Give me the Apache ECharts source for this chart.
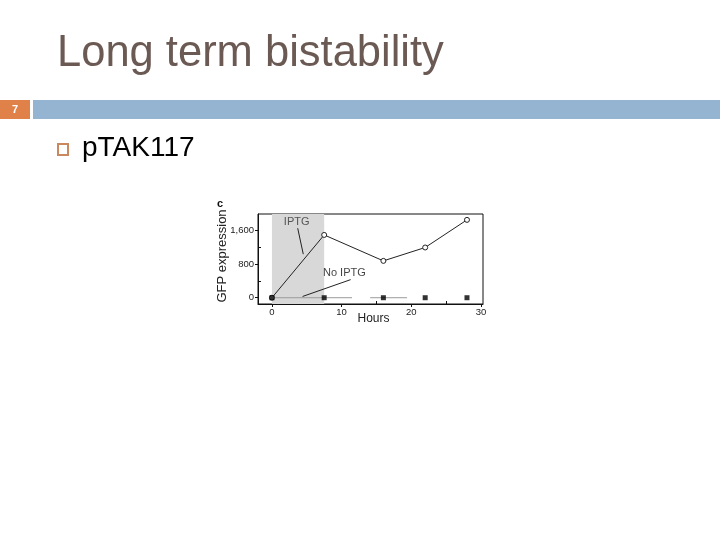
<!DOCTYPE html>
<html>
<head>
<meta charset="utf-8">
<script src="https://cdn.jsdelivr.net/npm/echarts@6/dist/echarts.min.js"></script>
<style>html,body{margin:0;padding:0;background:#fff;}#c{width:720px;height:540px;}</style>
</head>
<body>
<div id="c"></div>
<script>
// ---- data ----
var hours = [0, 7.5, 16, 22, 28];
var iptgValues = [0, 1500, 880, 1200, 1860];
var noIptgValues = [0, 0, 0, 0, 0];
var noIptgBarA = [[0, 0], [11.5, 0]];
var noIptgBarB = [[14.1, 0], [19.4, 0]];
var shadeRange = [0, 7.5];
var xTickLabels = [0, 10, 20, 30];
var xMinorTicks = [5, 15, 25];
var yTickLabels = [0, 800, 1600];
var yMinorTicks = [400, 1200];
var iptgPointer = [[3.7, 1660], [4.5, 1040]];
var noIptgPointer = [[11.3, 432], [4.4, 30]];
var iptgLabelPos = [3.55, 1820];
var noIptgLabelPos = [10.4, 590];

var chart = echarts.init(document.getElementById('c'), null, {renderer: 'canvas'});
var font = '"Liberation Sans", Arial, sans-serif';
function zip(xs, ys) { return xs.map(function (x, i) { return [x, ys[i]]; }); }

var option = {
  backgroundColor: '#fff',
  animation: false,
  graphic: [
    {type: 'text', left: 57, top: 32, style: {text: 'Long term bistability', font: '43.5px "Liberation Sans", Arial, sans-serif', fill: '#6b5a54'}},
    {type: 'rect', shape: {x: 0, y: 100, width: 30, height: 19}, style: {fill: '#e0814a'}},
    {type: 'rect', shape: {x: 33, y: 100, width: 687, height: 19}, style: {fill: '#95b4d1'}},
    {type: 'text', x: 15, y: 110, style: {text: '7', font: 'bold 11px "Liberation Sans", Arial, sans-serif', fill: '#fff', align: 'center', verticalAlign: 'middle'}},
    {type: 'rect', shape: {x: 58, y: 144, width: 10, height: 11}, style: {fill: 'none', stroke: '#c9885e', lineWidth: 2}},
    {type: 'text', left: 82, top: 134, style: {text: 'pTAK117', font: '28px "Liberation Sans", Arial, sans-serif', fill: '#000'}},
    {type: 'text', x: 220, y: 204, style: {text: 'c', font: 'bold 11px "Liberation Sans", Arial, sans-serif', fill: '#111', align: 'center', verticalAlign: 'middle'}}
  ],
  grid: {left: 258, right: 237, top: 214, bottom: 236, show: true, borderColor: '#111', borderWidth: 1, backgroundColor: 'transparent'},
  xAxis: [
    {type: 'value', min: -2, max: 30.3, position: 'bottom',
     name: 'Hours', nameLocation: 'middle', nameGap: 9, nameMoveOverlap: false,
     nameTextStyle: {fontFamily: font, fontSize: 12, color: '#222', padding: [0, 0, 0, 6]},
     axisLine: {show: true, onZero: false, lineStyle: {color: '#111'}},
     axisTick: {show: true, inside: false, length: 3, customValues: xTickLabels, lineStyle: {color: '#111'}},
     axisLabel: {show: true, margin: 3, customValues: xTickLabels, fontFamily: font, fontSize: 9.5, color: '#222'},
     splitLine: {show: false}},
    {type: 'value', min: -2, max: 30.3, position: 'bottom', gridIndex: 0,
     axisLine: {show: false, onZero: false},
     axisTick: {show: true, inside: true, length: 3, customValues: xMinorTicks, lineStyle: {color: '#111'}},
     axisLabel: {show: false}, splitLine: {show: false}}
  ],
  yAxis: [
    {type: 'value', min: -150, max: 2000, position: 'left',
     name: 'GFP expression', nameLocation: 'middle', nameGap: 29, nameMoveOverlap: false,
     nameTextStyle: {fontFamily: font, fontSize: 13, color: '#222', padding: [0, 0, 0, 6]},
     axisLine: {show: true, onZero: false, lineStyle: {color: '#111'}},
     axisTick: {show: true, length: 3, customValues: yTickLabels, lineStyle: {color: '#111'}},
     axisLabel: {show: true, margin: 4, customValues: yTickLabels, fontFamily: font, fontSize: 9.5, color: '#222',
       formatter: function (v) { return v.toLocaleString('en-US'); }},
     splitLine: {show: false}},
    {type: 'value', min: -150, max: 2000, position: 'left',
     axisLine: {show: false, onZero: false},
     axisTick: {show: true, inside: true, length: 3, customValues: yMinorTicks, lineStyle: {color: '#111'}},
     axisLabel: {show: false}, splitLine: {show: false}}
  ],
  series: [
    {type: 'line', data: [], z: 0, silent: true,
     markArea: {silent: true, itemStyle: {color: '#d8d8d8'}, data: [[{xAxis: shadeRange[0]}, {xAxis: shadeRange[1]}]]}},
    {type: 'line', data: noIptgBarA, symbol: 'none', lineStyle: {color: '#9a9a9a', width: 1}, z: 2},
    {type: 'line', data: noIptgBarB, symbol: 'none', lineStyle: {color: '#9a9a9a', width: 1}, z: 2},
    {type: 'line', data: iptgPointer, symbol: 'none', lineStyle: {color: '#222', width: 1}, z: 3},
    {type: 'line', data: noIptgPointer, symbol: 'none', lineStyle: {color: '#222', width: 1}, z: 3},
    {type: 'line', name: 'IPTG', data: zip(hours, iptgValues), symbol: 'circle', symbolSize: 5,
     itemStyle: {color: '#fff', borderColor: '#222', borderWidth: 1},
     lineStyle: {color: '#222', width: 1}, z: 4},
    {type: 'scatter', name: 'No IPTG', data: zip(hours, noIptgValues), symbol: 'rect', symbolSize: 5,
     itemStyle: {color: '#000'}, z: 5},
    {type: 'scatter', data: [iptgLabelPos], symbolSize: 0, silent: true, z: 6,
     label: {show: true, position: 'inside', formatter: 'IPTG', fontFamily: font, fontSize: 11, color: '#333'}},
    {type: 'scatter', data: [noIptgLabelPos], symbolSize: 0, silent: true, z: 6,
     label: {show: true, position: 'inside', formatter: 'No IPTG', fontFamily: font, fontSize: 11, color: '#111'}}
  ]
};
chart.setOption(option);
</script>
</body>
</html>
